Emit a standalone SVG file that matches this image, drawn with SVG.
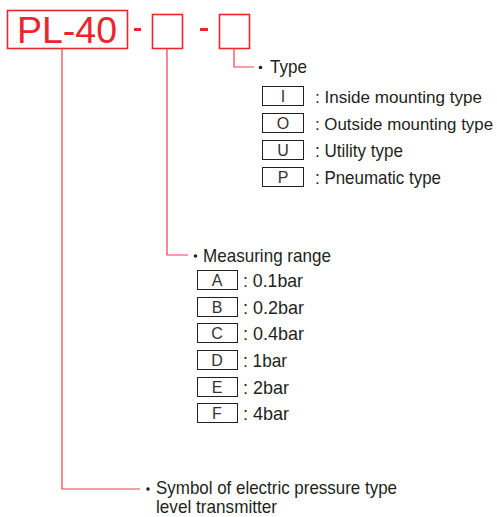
<svg xmlns="http://www.w3.org/2000/svg" width="497" height="517" viewBox="0 0 497 517">
<style>
.red{fill:none;stroke:#e8262e;stroke-width:1.6}
.ln{fill:none;stroke:#e8424a;stroke-width:1.2}
.t{font-family:"Liberation Sans",Arial,sans-serif;font-size:19px;fill:#231f20}
.s{font-size:17px}
.k{font-family:"Liberation Sans",Arial,sans-serif;font-size:16px;fill:#333;text-anchor:middle}
.bx{fill:#fff;stroke:#231f20;stroke-width:1}
.dot{fill:#231f20}
</style>
<rect width="497" height="517" fill="#fff"/>
<g id="code">
<rect class="red" x="7.5" y="10.5" width="120" height="38"/>
<text x="17" y="43" font-family="Liberation Sans,Arial,sans-serif" font-size="36" fill="#e8262e" textLength="100" lengthAdjust="spacingAndGlyphs">PL-40</text>
<rect x="134" y="28" width="7" height="3" fill="#e8262e"/>
<rect class="red" x="152.5" y="14.5" width="30" height="34"/>
<rect x="200" y="28" width="8" height="3" fill="#e8262e"/>
<rect class="red" x="219.5" y="14.5" width="30" height="34"/>
</g>
<g id="connectors">
<polyline class="ln" points="62,48 62,489 140,489"/>
<polyline class="ln" points="167,48 167,255 188,255"/>
<polyline class="ln" points="234,48 234,67 254,67"/>
</g>
<g id="type">
<circle class="dot" cx="260.5" cy="67.5" r="1.8"/>
<text class="t" x="270" y="73" textLength="37" lengthAdjust="spacingAndGlyphs">Type</text>
<rect class="bx" x="262.5" y="86.5" width="41" height="19"/>
<text class="k" x="283" y="102">I</text>
<text class="t s" x="315" y="103" textLength="167" lengthAdjust="spacingAndGlyphs">: Inside mounting type</text>
<rect class="bx" x="262.5" y="113.5" width="41" height="19"/>
<text class="k" x="283" y="129">O</text>
<text class="t s" x="315" y="130" textLength="178" lengthAdjust="spacingAndGlyphs">: Outside mounting type</text>
<rect class="bx" x="262.5" y="140.5" width="41" height="19"/>
<text class="k" x="283" y="156">U</text>
<text class="t" x="315" y="157" textLength="88" lengthAdjust="spacingAndGlyphs">: Utility type</text>
<rect class="bx" x="262.5" y="167.5" width="41" height="19"/>
<text class="k" x="283" y="183">P</text>
<text class="t" x="315" y="184" textLength="126" lengthAdjust="spacingAndGlyphs">: Pneumatic type</text>
</g>
<g id="range">
<circle class="dot" cx="195.5" cy="256" r="1.8"/>
<text class="t" x="203" y="262" textLength="128" lengthAdjust="spacingAndGlyphs">Measuring range</text>
<rect class="bx" x="197.5" y="270.5" width="40" height="19"/>
<text class="k" x="217" y="286">A</text>
<text class="t" x="243" y="287" textLength="60" lengthAdjust="spacingAndGlyphs">: 0.1bar</text>
<rect class="bx" x="197.5" y="297.5" width="40" height="19"/>
<text class="k" x="217" y="313">B</text>
<text class="t" x="243" y="314" textLength="61" lengthAdjust="spacingAndGlyphs">: 0.2bar</text>
<rect class="bx" x="197.5" y="323.5" width="40" height="19"/>
<text class="k" x="217" y="339">C</text>
<text class="t" x="243" y="340" textLength="61" lengthAdjust="spacingAndGlyphs">: 0.4bar</text>
<rect class="bx" x="197.5" y="350.5" width="40" height="19"/>
<text class="k" x="217" y="366">D</text>
<text class="t" x="243" y="367" textLength="44" lengthAdjust="spacingAndGlyphs">: 1bar</text>
<rect class="bx" x="197.5" y="377.5" width="40" height="19"/>
<text class="k" x="217" y="393">E</text>
<text class="t" x="243" y="394" textLength="46" lengthAdjust="spacingAndGlyphs">: 2bar</text>
<rect class="bx" x="197.5" y="403.5" width="40" height="19"/>
<text class="k" x="217" y="419">F</text>
<text class="t" x="243" y="420" textLength="46" lengthAdjust="spacingAndGlyphs">: 4bar</text>
</g>
<g id="symbol">
<circle class="dot" cx="148" cy="489" r="1.8"/>
<text class="t" x="156" y="494" textLength="241" lengthAdjust="spacingAndGlyphs">Symbol of electric pressure type</text>
<text class="t" x="156" y="513" textLength="121" lengthAdjust="spacingAndGlyphs">level transmitter</text>
</g>
</svg>
